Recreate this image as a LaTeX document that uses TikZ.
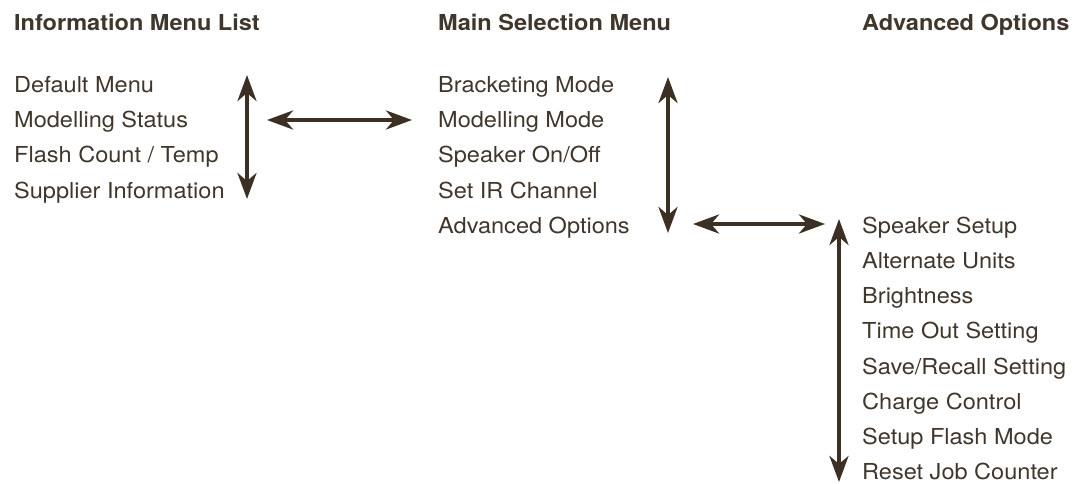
\documentclass[tikz,border=0pt]{standalone}
\usepackage{fontspec}
\setmainfont{TeX Gyre Heros}[FakeStretch=1.07]
\usetikzlibrary{arrows.meta}
\definecolor{ink}{RGB}{64,54,43}
\definecolor{arrowc}{RGB}{60,48,36}
\begin{document}
\begin{tikzpicture}[x=1pt,y=-1pt,
  item/.style={anchor=base west,inner sep=0pt,text=ink,font=\fontsize{22}{26}\selectfont},
  head/.style={item,font=\fontsize{22}{26}\selectfont\bfseries},
  dblarrow/.style={draw=arrowc,line width=4pt,{Stealth[length=26pt,width=19pt,inset=8pt]}-{Stealth[length=26pt,width=19pt,inset=8pt]}}]
\useasboundingbox (0,0) rectangle (1073,484);
% headers
\node[head] (h1) at (14,31) {Information Menu List};
\node[head] (h2) at (438,31) {Main Selection Menu};
\node[head] (h3) at (862,31) {Advanced Options};
% column 1
\node[item] (a1) at (14,92.5) {Default Menu};
\node[item] (a2) at (14,127.7) {Modelling Status};
\node[item] (a3) at (14,162.9) {Flash Count / Temp};
\node[item] (a4) at (14,198.1) {Supplier Information};
% column 2
\node[item] (b1) at (438,92.5) {Bracketing Mode};
\node[item] (b2) at (438,127.7) {Modelling Mode};
\node[item] (b3) at (438,162.9) {Speaker On/Off};
\node[item] (b4) at (438,198.1) {Set IR Channel};
\node[item] (b5) at (438,233.3) {Advanced Options};
% column 3
\node[item] (c1) at (862,233.3) {Speaker Setup};
\node[item] (c2) at (862,268.5) {Alternate Units};
\node[item] (c3) at (862,303.7) {Brightness};
\node[item] (c4) at (862,338.9) {Time Out Setting};
\node[item] (c5) at (862,374.1) {Save/Recall Setting};
\node[item] (c6) at (862,409.3) {Charge Control};
\node[item] (c7) at (862,444.5) {Setup Flash Mode};
\node[item] (c8) at (862,479.7) {Reset Job Counter};
% arrow end points
\coordinate (v1t) at (247,75);
\coordinate (v1b) at (247,199);
\coordinate (h1l) at (267,120);
\coordinate (h1r) at (412,120);
\coordinate (v2t) at (668,77);
\coordinate (v2b) at (668,233);
\coordinate (h2l) at (693,224);
\coordinate (h2r) at (825,224);
\coordinate (v3t) at (839,219);
\coordinate (v3b) at (839,482);
\draw[dblarrow] (v1t) -- (v1b);
\draw[dblarrow] (h1l) -- (h1r);
\draw[dblarrow] (v2t) -- (v2b);
\draw[dblarrow] (h2l) -- (h2r);
\draw[dblarrow] (v3t) -- (v3b);
\end{tikzpicture}
\end{document}
